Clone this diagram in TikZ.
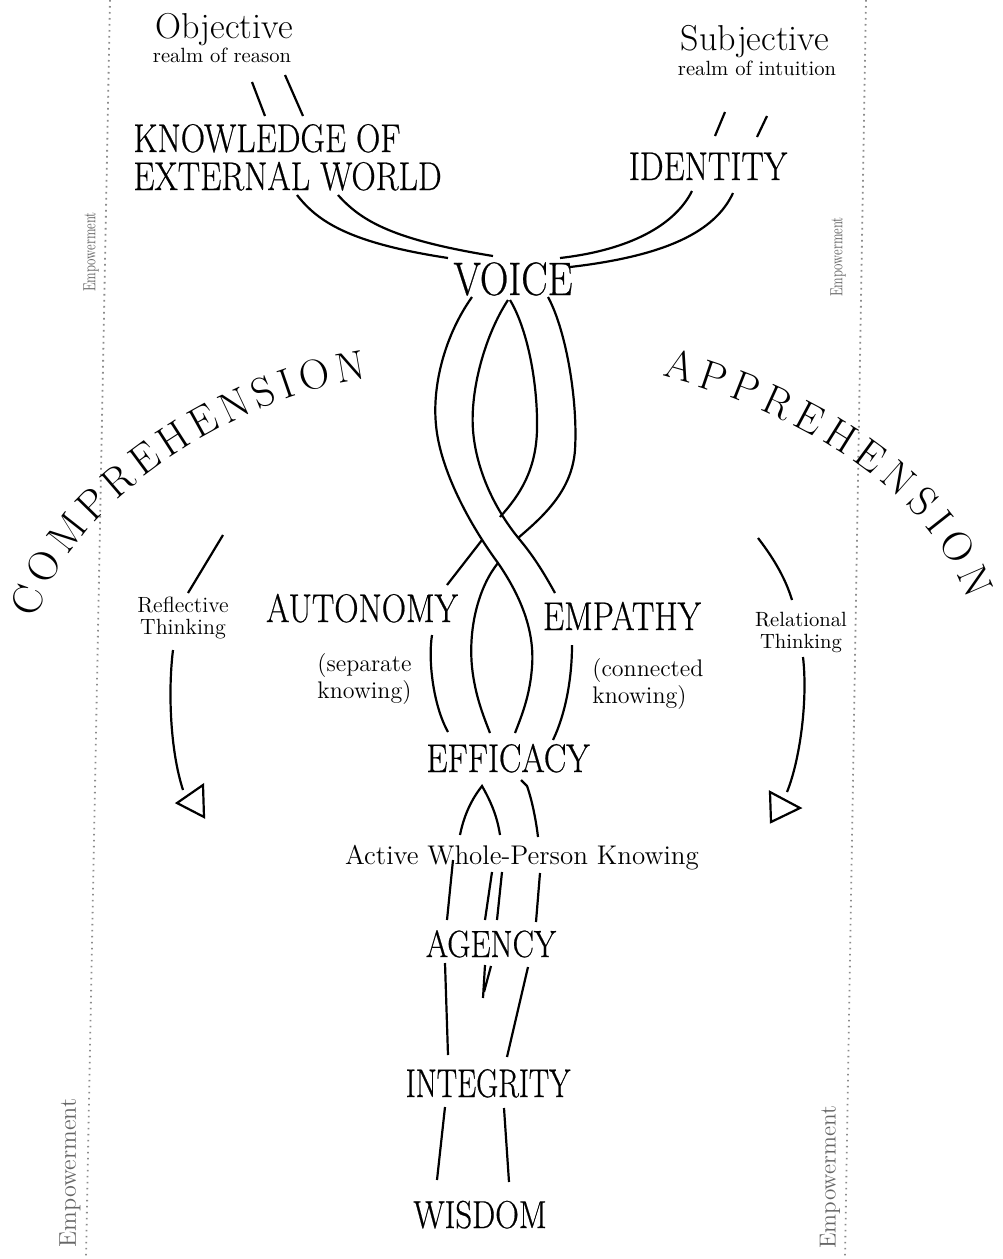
\documentclass[tikz,border=0pt]{standalone}
\usepackage{fontspec}
\newfontfamily\capsfont[FakeStretch=0.84, FakeBold=0.5]{Latin Modern Roman}
\newfontfamily\tightcaps[FakeStretch=0.76, FakeBold=0.5]{Latin Modern Roman}
\newfontfamily\empfont[FakeStretch=0.7]{Latin Modern Roman}
\usetikzlibrary{decorations.text}
\begin{document}
\begin{tikzpicture}[x=0.5pt, y=-0.5pt,
    strand/.style={line width=1.1pt},
    caps/.style={font=\capsfont\fontsize{20}{19}\selectfont, inner sep=0pt, anchor=base},
    lower/.style={font=\fontsize{12}{11.5}\selectfont, inner sep=0pt, anchor=base},
    small/.style={font=\fontsize{10.3}{11}\selectfont, inner sep=0pt, anchor=base},
    emp/.style={inner sep=0pt, rotate=90, text=black!60},
    margin/.style={black!45, line width=0.9pt, dash pattern=on 0.8pt off 2.2pt}]
    \useasboundingbox (0,0) rectangle (1002,1259);
    % margin lines
    \draw[margin] (110,0) -- (86,1259);
    \draw[margin] (866,0) -- (845,1259);
    \node[emp, font=\empfont\fontsize{8.8}{9}\selectfont] (emptl) at (91,252) {Empowerment};
    \node[emp, font=\empfont\fontsize{8.8}{9}\selectfont] (emptr) at (838,257) {Empowerment};
    \node[emp, font=\fontsize{12.1}{13}\selectfont] (empbl) at (70,1173) {Empowerment};
    \node[emp, font=\fontsize{11.6}{12}\selectfont] (empbr) at (830,1177) {Empowerment};
    % labels
    \node[inner sep=0pt, anchor=base, font=\fontsize{18}{18}\selectfont] (obj) at (224,38) {Objective};
    \node[small] (reason) at (222,62) {realm of reason};
    \node[inner sep=0pt, anchor=base, font=\fontsize{18}{18}\selectfont] (subj) at (755,50) {Subjective};
    \node[small] (intuition) at (757,75) {realm of intuition};
    \node[caps, anchor=base west, align=left] (know) at (133,190) {KNOWLEDGE OF\\EXTERNAL WORLD};
    \node[caps] (ident) at (708,180) {IDENTITY};
    \node[caps, font=\capsfont\fontsize{23.5}{24}\selectfont] (voice) at (513,295) {VOICE};
    \node[caps] (auto) at (362,622) {AUTONOMY};
    \node[caps] (emp) at (622,630) {EMPATHY};
    \node[lower, anchor=base west, align=left] (sep) at (317,698) {(separate\\knowing)};
    \node[lower, anchor=base west, align=left] (conn) at (592,703) {(connected\\knowing)};
    \node[small, align=center, font=\fontsize{11}{11}\selectfont] (refl) at (183,634) {Reflective\\Thinking};
    \node[small, align=center] (rel) at (801,648) {Relational\\Thinking};
    \node[caps] (eff) at (508,772) {EFFICACY};
    \node[lower, font=\fontsize{13.5}{14}\selectfont] (active) at (522,864) {Active Whole-Person Knowing};
    \node[caps, font=\capsfont\fontsize{19}{19}\selectfont] (agency) at (491,957) {AGENCY};
    \node[caps, font=\tightcaps\fontsize{20}{19}\selectfont] (integ) at (488,1097) {INTEGRITY};
    \node[caps, font=\capsfont\fontsize{19.5}{19}\selectfont] (wisdom) at (480,1228) {WISDOM};
    % curved headings
    \path[decorate, decoration={text along path, text align=fit to path,
        text={|\fontsize{21}{21}\selectfont|COMPREHENSION}}]
        (37,619) .. controls (70,500) and (240,395) .. (367,379);
    \path[decorate, decoration={text along path, text align=fit to path,
        text={|\fontsize{21}{21}\selectfont|APPREHENSION}}]
        (662,376) .. controls (790,410) and (925,482) .. (968,600);
    % strands from the two realms
    \draw[strand] (252,82) -- (265,116);
    \draw[strand] (285,75) -- (303,116);
    \draw[strand] (725,112) -- (715,136);
    \draw[strand] (767,116) -- (757,137);
    \draw[strand] (297,195) .. controls (318,222) and (350,243) .. (448,258);
    \draw[strand] (338,195) .. controls (362,222) and (395,240) .. (493,256);
    \draw[strand] (692,191) .. controls (675,225) and (630,250) .. (560,258);
    \draw[strand] (733,193) .. controls (715,232) and (665,256) .. (570,267);
    % braid below voice, right ribbon passes under
    \draw[strand] (510,300) .. controls (528,330) and (538,385) .. (537,430)
        .. controls (536,470) and (520,495) .. (500,517);
    \draw[strand] (482,540) -- (447,585);
    \draw[strand] (548,297) .. controls (566,330) and (578,400) .. (575,450)
        .. controls (572,490) and (545,515) .. (518,538);
    \draw[strand] (498,563) .. controls (480,585) and (468,625) .. (472,667)
        .. controls (475,695) and (483,715) .. (490,733);
    \draw[strand] (472,297) .. controls (445,335) and (432,385) .. (436,425)
        .. controls (440,470) and (470,525) .. (498,563)
        .. controls (520,595) and (535,630) .. (532,667)
        .. controls (530,695) and (522,715) .. (515,733);
    \draw[strand] (508,300) .. controls (485,335) and (470,390) .. (473,430)
        .. controls (476,470) and (495,510) .. (520,540)
        .. controls (535,558) and (545,575) .. (555,593);
    \draw[strand] (432,635) .. controls (428,660) and (433,705) .. (448,732);
    \draw[strand] (572,645) .. controls (572,680) and (565,715) .. (553,740);
    % down to wisdom
    \draw[strand] (460,835) .. controls (465,810) and (475,795) .. (482,786)
        .. controls (490,800) and (497,815) .. (500,835);
    \draw[strand] (521,780) -- (527,786) .. controls (532,800) and (536,820) .. (538,837);
    \draw[strand] (453,860) -- (447,920);
    \draw[strand] (492,872) -- (485,920);
    \draw[strand] (502,872) -- (497,920);
    \draw[strand] (540,873) -- (536,922);
    \draw[strand] (445,963) -- (448,1055);
    \draw[strand] (485,965) -- (483,998);
    \draw[strand] (491,966) -- (484,992);
    \draw[strand] (528,967) -- (507,1057);
    \draw[strand] (445,1107) -- (437,1180);
    \draw[strand] (504,1108) -- (509,1182);
    % thinking arrows
    \draw[strand] (223,535) -- (188,593);
    \draw[strand] (173,650) .. controls (168,690) and (170,750) .. (183,790);
    \draw[strand] (177,803) -- (203,785) -- (204,817) -- cycle;
    \draw[strand] (758,538) .. controls (775,560) and (786,580) .. (792,600);
    \draw[strand] (803,657) .. controls (808,700) and (800,760) .. (787,792);
    \draw[strand] (770,792) -- (800,808) -- (771,822) -- cycle;
\end{tikzpicture}
\end{document}
